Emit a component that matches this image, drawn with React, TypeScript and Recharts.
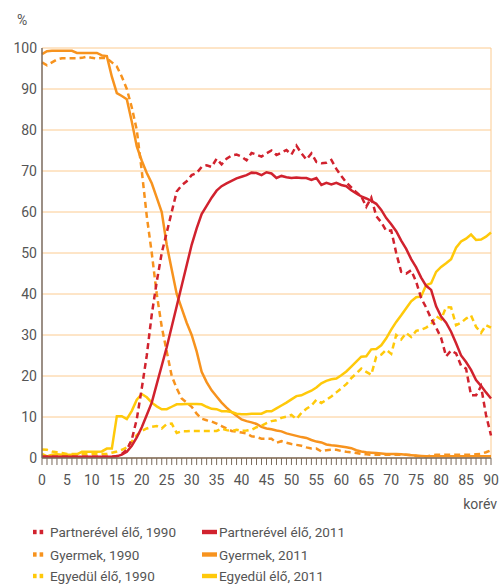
import React from 'react';
import { LineChart, Line, XAxis, YAxis, CartesianGrid, ReferenceLine } from 'recharts';

const ages: number[] = Array.from({ length: 91 }, (_, i) => i);

const partner1990 = [
  0.3, 0.3, 0.3, 0.3, 0.3, 0.3, 0.3, 0.3, 0.3, 0.3,
  0.3, 0.3, 0.3, 0.3, 0.3, 0.5, 1.0, 2.0, 4.5, 9.5,
  17, 25, 35, 43, 50, 55, 60, 65, 66.5, 67.5,
  69, 69.5, 71, 71.4, 71, 73, 71.6, 73, 73.8, 74,
  73.5, 72.6, 74.4, 74, 73.5, 74.3, 75, 73.9, 74.5, 75.1,
  74, 76.2, 74.3, 72.8, 74.3, 72.2, 71.9, 72, 72.7, 70.5,
  68.8, 67.2, 66, 64.8, 63.8, 61.3, 63.5, 59, 57.5, 55.4,
  55.5, 50, 45.4, 45, 45.8, 43, 39, 36.7, 34, 31.8,
  29.3, 24.8, 26.2, 25.5, 22.5, 21.8, 15.3, 15.3, 17.5, 10.5,
  5.5,
];

const partner2011 = [
  0.3, 0.3, 0.3, 0.3, 0.3, 0.3, 0.3, 0.3, 0.3, 0.3,
  0.3, 0.3, 0.3, 0.3, 0.3, 0.4, 0.8, 1.5, 3, 5,
  7.5, 10.5, 13.5, 18, 22.5, 27, 32, 37, 42, 47,
  52, 56, 59.5, 61.5, 63.5, 65.2, 66.3, 67, 67.6, 68.2,
  68.6, 69, 69.6, 69.5, 69, 69.7, 69.4, 68.3, 68.8, 68.5,
  68.3, 68.4, 68.3, 68.3, 67.8, 68.3, 66.6, 67.1, 66.7, 67.1,
  66.6, 66.3, 65.3, 64.5, 63.8, 63.3, 62.7, 62, 60.5, 58.5,
  57, 55.3, 53, 51, 48.5, 46.5, 44, 42, 41, 37,
  34.5, 33, 30.8, 28, 25, 23.4, 21.5, 19, 17.6, 16,
  14.5,
];

const gyermek1990 = [
  96.5, 95.8, 96.5, 97.2, 97.5, 97.5, 97.5, 97.5, 97.6, 97.9,
  97.6, 97.4, 97.6, 97.5, 96.5, 95.5, 93, 90, 85.5, 80,
  70, 59, 50, 40, 32, 26, 20, 17, 14.5, 13.5,
  12.5, 10.8, 9.6, 9.2, 8.9, 8.4, 7.8, 7.2, 6.6, 6.4,
  6.2, 6.0, 5.3, 5.1, 4.7, 4.7, 4.7, 3.7, 4.1, 3.7,
  3.4, 3.2, 3.0, 2.6, 2.3, 2.3, 1.6, 1.9, 2.0, 2.0,
  1.7, 1.5, 1.4, 1.2, 1.0, 0.9, 0.8, 0.8, 0.8, 0.8,
  0.8, 0.8, 0.8, 0.8, 0.7, 0.5, 0.3, 0.4, 0.6, 0.8,
  0.8, 0.8, 0.8, 0.8, 0.8, 0.8, 0.8, 0.9, 1.0, 1.4,
  1.9,
];

const gyermek2011 = [
  98.5, 99.2, 99.3, 99.3, 99.3, 99.3, 99.3, 98.8, 98.8, 98.8,
  98.8, 98.8, 98.2, 98, 93, 89, 88.3, 87.5, 82, 76,
  72.5, 69.5, 67, 63.5, 60, 52, 46, 40, 36.5, 33,
  30, 26, 21, 18.5, 16.5, 15, 13.5, 12.3, 11.2, 10.3,
  9.4, 9, 8.7, 8.3, 7.6, 7.2, 7, 6.7, 6.5, 6,
  5.7, 5.4, 5.1, 4.9, 4.4, 4, 3.8, 3.3, 3.1, 3.0,
  2.8, 2.6, 2.4, 1.9, 1.6, 1.4, 1.3, 1.2, 1.1, 1.0,
  1.0, 1.0, 0.9, 0.8, 0.7, 0.6, 0.5, 0.4, 0.4, 0.4,
  0.4, 0.4, 0.4, 0.4, 0.4, 0.4, 0.4, 0.4, 0.4, 0.4,
  0.4,
];

const egyedul1990 = [
  2.1, 2.0, 1.6, 1.4, 1.2, 1.0, 1.0, 1.0, 1.0, 0.9,
  1.0, 1.0, 1.0, 1.0, 1.3, 1.6, 2.0, 2.6, 4.0, 5.6,
  6.6, 7.2, 7.6, 7.8, 7.2, 8.3, 8.4, 6.1, 6.5, 6.5,
  6.6, 6.6, 6.6, 6.6, 6.6, 6.6, 7.2, 6.8, 6.6, 6.9,
  6.6, 6.7, 6.9, 7.5, 7.9, 8.5, 9.0, 9.2, 9.8, 10.1,
  10.5, 9.5, 11, 12, 12.8, 14.2, 13.4, 14.2, 15, 16,
  17, 18, 19.5, 20.6, 21.8, 21, 20.3, 24.7, 25.2, 26.4,
  25.4, 30, 28.9, 30.5, 29.5, 31, 31.3, 31.8, 32.6, 34.6,
  33.8, 36.8, 36.7, 32.4, 33, 34, 34.8, 32, 30.5, 32.4,
  31.8,
];

const egyedul2011 = [
  1.0, 0.4, 0.8, 0.9, 0.8, 0.8, 0.8, 0.9, 1.5, 1.5,
  1.5, 1.5, 1.6, 2.3, 2.3, 10.2, 10.2, 9.5, 11.5, 14.2,
  15.6, 14.8, 13.5, 12.6, 11.9, 11.9, 12.5, 13.1, 13.1, 13.2,
  13.2, 13.2, 13.1, 12.5, 12, 11.9, 11.4, 11.4, 11.2, 10.8,
  10.7, 10.7, 10.8, 10.8, 10.8, 11.4, 11.4, 12.1, 12.8, 13.5,
  14.3, 15.1, 15.3, 15.9, 16.4, 17.2, 18.2, 18.8, 19.2, 19.4,
  20.2, 21.1, 22.3, 23.5, 24.7, 24.8, 26.5, 26.6, 27.5, 29.2,
  31.3, 33.2, 34.8, 36.5, 38.2, 39.2, 39.4, 42.2, 42.6, 45.4,
  46.6, 47.5, 48.5, 51.3, 52.8, 53.5, 54.5, 53.2, 53.3, 54,
  55,
];

const yTicks = [0, 10, 20, 30, 40, 50, 60, 70, 80, 90, 100];

const data = ages.map((a, i) => ({
  age: a,
  p1990: partner1990[i],
  p2011: partner2011[i],
  g1990: gyermek1990[i],
  g2011: gyermek2011[i],
  e1990: egyedul1990[i],
  e2011: egyedul2011[i],
}));

const RED = '#D1222E';
const ORANGE = '#F7931E';
const YELLOW = '#FFC90A';
const GRID = '#FCCB90';
const AXIS = '#7a6a5c';
const TEXT = '#555555';
const FONT = 'Roboto, sans-serif';

const legendItems = [
  { label: 'Partnerével élő, 1990', color: RED, dashed: true, col: 0, row: 0 },
  { label: 'Partnerével élő, 2011', color: RED, dashed: false, col: 1, row: 0 },
  { label: 'Gyermek, 1990', color: ORANGE, dashed: true, col: 0, row: 1 },
  { label: 'Gyermek, 2011', color: ORANGE, dashed: false, col: 1, row: 1 },
  { label: 'Egyedül élő, 1990', color: YELLOW, dashed: true, col: 0, row: 2 },
  { label: 'Egyedül élő, 2011', color: YELLOW, dashed: false, col: 1, row: 2 },
];

const rowY = [532, 554.5, 576];

export default function App() {
  return (
    <div style={{ position: 'absolute', left: 0, top: 0, width: 500, height: 585, background: '#fff', fontFamily: FONT }}>
      <LineChart width={500} height={585} data={data} margin={{ top: 48, right: 9, bottom: 97, left: 0 }}>
        <CartesianGrid horizontal vertical={false} stroke={GRID} strokeWidth={1} />
        <ReferenceLine x={90} stroke={GRID} strokeWidth={1} />
        <XAxis
          dataKey="age"
          type="number"
          domain={[0, 90]}
          ticks={ages}
          interval={0}
          height={30}
          tickSize={7}
          tickMargin={10}
          stroke={AXIS}
          axisLine={{ stroke: AXIS, strokeWidth: 1.5 }}
          tickLine={{ stroke: AXIS, strokeWidth: 1 }}
          tick={{ fill: TEXT, fontSize: 14, fontFamily: FONT }}
          tickFormatter={(v: number) => (v % 5 === 0 ? String(v) : '')}
        />
        <YAxis
          type="number"
          domain={[0, 100]}
          ticks={yTicks}
          interval={0}
          width={42}
          tickLine={false}
          tickSize={3}
          tickMargin={2}
          axisLine={{ stroke: AXIS, strokeWidth: 1.5 }}
          tick={{ fill: TEXT, fontSize: 14, fontFamily: FONT }}
        />
        <Line dataKey="g1990" stroke={ORANGE} strokeWidth={2.5} strokeDasharray="6 4" dot={false} isAnimationActive={false} />
        <Line dataKey="g2011" stroke={ORANGE} strokeWidth={2.5} dot={false} isAnimationActive={false} />
        <Line dataKey="e1990" stroke={YELLOW} strokeWidth={2.5} strokeDasharray="6 4" dot={false} isAnimationActive={false} />
        <Line dataKey="e2011" stroke={YELLOW} strokeWidth={2.5} dot={false} isAnimationActive={false} />
        <Line dataKey="p1990" stroke={RED} strokeWidth={2.5} strokeDasharray="6 4" dot={false} isAnimationActive={false} />
        <Line dataKey="p2011" stroke={RED} strokeWidth={2.5} dot={false} isAnimationActive={false} />
      </LineChart>
      <svg width={500} height={585} style={{ position: 'absolute', left: 0, top: 0, pointerEvents: 'none' }}>
        <text x={17} y={25} fill={TEXT} fontSize={14} fontFamily={FONT}>%</text>
        <text x={497} y={509} fill={TEXT} fontSize={14} fontFamily={FONT} textAnchor="end">korév</text>
        {legendItems.map((it) => {
          const cy = rowY[it.row];
          const ix = it.col === 0 ? 33 : 202;
          const tx = it.col === 0 ? 50 : 219;
          return (
            <g key={it.label}>
              {it.dashed ? (
                <>
                  <rect x={ix} y={cy - 2.2} width={3.6} height={4.4} fill={it.color} />
                  <rect x={ix + 6.6} y={cy - 2.2} width={3.6} height={4.4} fill={it.color} />
                </>
              ) : (
                <rect x={ix} y={cy - 2.2} width={15} height={4.4} fill={it.color} />
              )}
              <text x={tx} y={cy + 5} fill={TEXT} fontSize={13.5} fontFamily={FONT}>{it.label}</text>
            </g>
          );
        })}
      </svg>
    </div>
  );
}
